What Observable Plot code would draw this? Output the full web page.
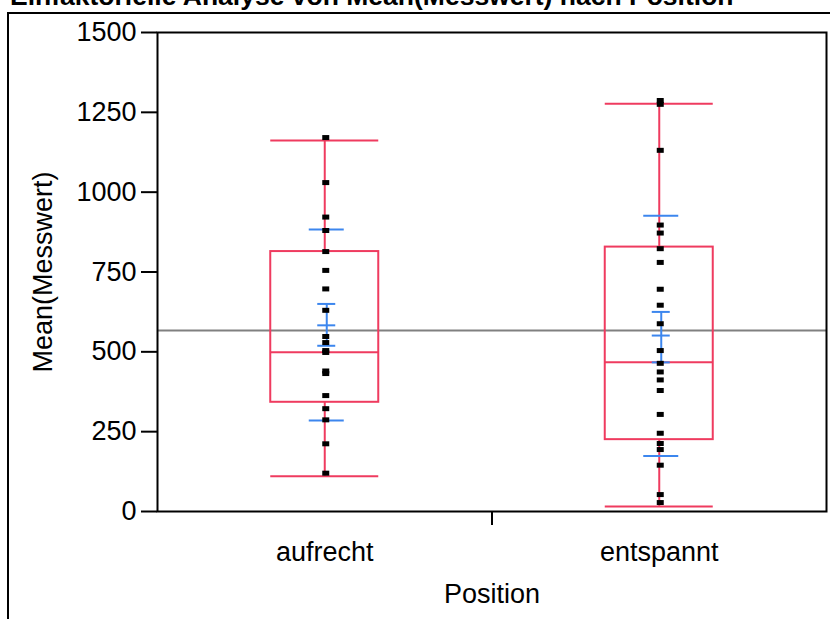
<!DOCTYPE html>
<html><head><meta charset="utf-8">
<script src="https://cdn.jsdelivr.net/npm/d3@7"></script>
<script src="https://cdn.jsdelivr.net/npm/@observablehq/plot@0.6"></script>
<style>
body{margin:0;background:#fff;overflow:hidden}
#wrap{position:relative;width:830px;height:619px;overflow:hidden;font-family:"Liberation Sans",Arial,sans-serif;background:#fff}
#title{position:absolute;left:10px;top:-17px;font-size:26.5px;font-weight:bold;white-space:nowrap;line-height:1;color:#000}
#border{position:absolute;left:7px;top:12px;width:900px;height:700px;border:2px solid #000;box-sizing:border-box}
#chart{position:absolute;left:0;top:0}
</style></head><body>
<div id="wrap"><div id="title">Einfaktorielle Analyse von Mean(Messwert) nach Position</div><div id="border"></div><div id="chart"></div></div>
<script>
const categories = ["aufrecht", "entspannt"];
const aufrechtValues = [1171, 1030, 922, 880, 814, 755, 697, 630, 548, 529, 504, 498, 440, 432, 363, 322, 287, 212, 120];
const entspanntValues = [1287, 1275, 1131, 897, 872, 823, 780, 696, 646, 588, 504, 464, 437, 412, 379, 304, 245, 213, 194, 145, 53, 28];
const boxMin = [110, 16];
const boxQ1 = [342, 225];
const boxMedian = [499, 467];
const boxQ3 = [814, 828];
const boxMax = [1162, 1277];
const groupMean = [583, 551];
const seLow = [519, 467];
const seHigh = [650, 625];
const sdLow = [285, 174];
const sdHigh = [883, 926];
const grandMean = 567;
const yTicks = [0, 250, 500, 750, 1000, 1250, 1500];

const red = "#EF3B5F", blue = "#3C86EE";
const pxPerUnit = (826 - 157) / 2;
const boxHalf = 54 / pxPerUnit, sdHalf = 17.5 / pxPerUnit, seHalf = 9 / pxPerUnit;

const groups = categories.map((c, i) => ({
  c, xc: i + 0.5, min: boxMin[i], q1: boxQ1[i], med: boxMedian[i], q3: boxQ3[i], max: boxMax[i],
  mean: groupMean[i], seL: seLow[i], seH: seHigh[i], sdL: sdLow[i], sdH: sdHigh[i]
}));
const points = [
  ...aufrechtValues.map(v => ({xc: 0.5, v})),
  ...entspanntValues.map(v => ({xc: 1.5, v}))
];
const rectSymbol = {draw(ctx) { ctx.rect(-3.5, -2.5, 7, 5); }};

const blueLines = groups.flatMap(g => [
  {x1: g.xc - sdHalf, x2: g.xc + sdHalf, y: g.sdH},
  {x1: g.xc - sdHalf, x2: g.xc + sdHalf, y: g.sdL},
  {x1: g.xc - seHalf, x2: g.xc + seHalf, y: g.seH},
  {x1: g.xc - seHalf, x2: g.xc + seHalf, y: g.mean},
  {x1: g.xc - seHalf, x2: g.xc + seHalf, y: g.seL}
]);

const chart = Plot.plot({
  width: 830,
  height: 619,
  marginTop: 32,
  marginBottom: 108,
  marginLeft: 157,
  marginRight: 4,
  style: {fontFamily: "'Liberation Sans', Arial, sans-serif", background: "transparent", color: "#000"},
  x: {domain: [0, 2]},
  y: {domain: [0, 1500]},
  marks: [
    Plot.ruleY([grandMean], {stroke: "#808080", strokeWidth: 2}),
    Plot.rect(groups, {x1: g => g.xc - boxHalf, x2: g => g.xc + boxHalf, y1: "q1", y2: "q3", fill: "none", stroke: red, strokeWidth: 2}),
    Plot.ruleY(groups, {x1: g => g.xc - boxHalf, x2: g => g.xc + boxHalf, y: "med", stroke: red, strokeWidth: 2}),
    Plot.ruleY(groups, {x1: g => g.xc - boxHalf, x2: g => g.xc + boxHalf, y: "min", stroke: red, strokeWidth: 2}),
    Plot.ruleY(groups, {x1: g => g.xc - boxHalf, x2: g => g.xc + boxHalf, y: "max", stroke: red, strokeWidth: 2}),
    Plot.ruleX(groups, {x: "xc", y1: "min", y2: "q1", stroke: red, strokeWidth: 2}),
    Plot.ruleX(groups, {x: "xc", y1: "q3", y2: "max", stroke: red, strokeWidth: 2}),
    Plot.ruleX(groups, {x: "xc", y1: "seL", y2: "seH", stroke: blue, strokeWidth: 2, dx: 2}),
    Plot.ruleY(blueLines, {x1: "x1", x2: "x2", y: "y", stroke: blue, strokeWidth: 2, dx: 2}),
    Plot.dot(points, {x: "xc", y: "v", symbol: rectSymbol, fill: "#000", stroke: "none", dx: 1}),
    Plot.frame({stroke: "#000", strokeWidth: 2}),
    Plot.axisY(yTicks, {tickSize: 16, tickPadding: 5, fontSize: 27, tickFormat: d => String(d), label: "Mean(Messwert)", labelAnchor: "center", labelArrow: "none", labelOffset: 125, strokeWidth: 2}),
    Plot.axisX([0.5, 1.5], {tickSize: 0, tickPadding: 30, fontSize: 27, tickFormat: d => categories[Math.floor(d)], label: "Position", labelAnchor: "center", labelArrow: "none", labelOffset: 91}),
    Plot.axisX([1], {tickSize: 14, tickFormat: () => "", label: null, strokeWidth: 2})
  ]
});
document.getElementById("chart").appendChild(chart);
</script>
</body></html>
